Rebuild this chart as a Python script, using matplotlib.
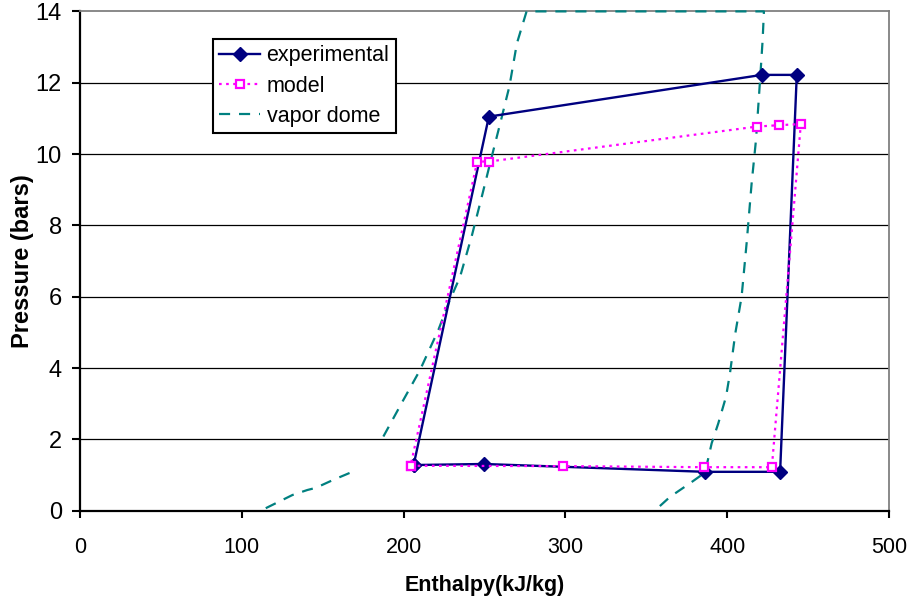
import numpy as np
import matplotlib
matplotlib.use("Agg")
import matplotlib.pyplot as plt

plt.rcParams['font.family'] = ['Liberation Sans', 'DejaVu Sans']

# Experimental cycle
exp_h = [206.2, 249.6, 386.4, 432.7, 443.0, 421.4, 252.7, 206.2]
exp_p = [1.28, 1.31, 1.09, 1.09, 12.22, 12.22, 11.05, 1.28]

# Model cycle
mod_h = [204.3, 298.5, 385.8, 427.6, 445.5, 432.0, 418.3, 252.7, 245.5, 204.3]
mod_p = [1.26, 1.25, 1.22, 1.22, 10.84, 10.81, 10.77, 9.79, 9.79, 1.26]

# Vapor dome (NaN = gap in the data)
dome_h = [114.8, 131.3, 140.5, 145.7, 156.8, 168.3, np.nan,
          187.5, 199.8, 210.1, 221.5, 227.7, 234.9, 242.0, 248.3, 254.5,
          260.2, 265.4, 270.0, 276.0,
          422.7, 421.9, 420.3, 417.8, 415.1, 412.0, 408.9, 405.0, 401.7,
          399.3, 394.5, 390.4, 386.3, 377.0, 364.7, 357.9]
dome_p = [0.07, 0.44, 0.58, 0.64, 0.87, 1.09, np.nan,
          2.08, 3.10, 3.94, 5.07, 5.81, 6.56, 7.68, 8.80, 9.93,
          10.95, 11.90, 13.10, 14.0,
          14.0, 13.2, 12.07, 10.4, 9.18, 7.5, 6.0, 4.97, 3.85,
          3.2, 2.45, 1.89, 1.07, 0.77, 0.39, 0.11]

x_ticks = [0, 100, 200, 300, 400, 500]
y_ticks = [0, 2, 4, 6, 8, 10, 12, 14]

fig = plt.figure(figsize=(9.08, 6.00), dpi=100)
ax = fig.add_axes([80/908, 1 - 510.7/600, 809/908, 499.3/600])

ax.plot(exp_h, exp_p, color='#000080', lw=1.7, marker='D', ms=7.5,
        mfc='#000080', mec='#000080', label='experimental', zorder=4)
ax.plot(mod_h, mod_p, color='#FF00FF', lw=1.6, ls=(0, (1.2, 2.0)), marker='s', ms=5.5,
        mfc='white', mec='#FF00FF', mew=1.6, label='model', zorder=5)
ax.plot(dome_h, dome_p, color='#008080', lw=1.6, ls=(0, (5, 4)),
        label='vapor dome', zorder=3, clip_on=False)

ax.set_xlim(0, 500)
ax.set_ylim(0, 14)
ax.set_xticks(x_ticks)
ax.set_yticks(y_ticks)
ax.tick_params(axis='x', labelsize=15.5, length=5, width=1.5, pad=14, direction='out')
ax.tick_params(axis='y', labelsize=17, length=6, width=1.5, pad=7, direction='out')

ax.yaxis.grid(True, color='black', lw=0.9)
gl = ax.yaxis.get_gridlines()
gl[0].set_visible(False)
gl[-1].set_visible(False)

for s in ['left', 'bottom']:
    ax.spines[s].set_color('black')
    ax.spines[s].set_linewidth(1.6)
for s in ['top', 'right']:
    ax.spines[s].set_color('#808080')
    ax.spines[s].set_linewidth(1.3)

ax.set_xlabel('Enthalpy(kJ/kg)', fontsize=15.5, fontweight='bold', labelpad=12)
ax.set_ylabel('Pressure (bars)', fontsize=17, fontweight='bold', labelpad=1)

leg = ax.legend(loc='upper left', bbox_to_anchor=((212.7-80)/809, (510.7-39)/499.3),
                borderaxespad=0, fontsize=15.5, frameon=True, fancybox=False,
                edgecolor='black', framealpha=1, handlelength=1.9, handletextpad=0.3,
                borderpad=0.3, labelspacing=0.42)
leg.get_frame().set_linewidth(1.5)
leg.set_zorder(10)

fig.savefig('out.png', dpi=100)
